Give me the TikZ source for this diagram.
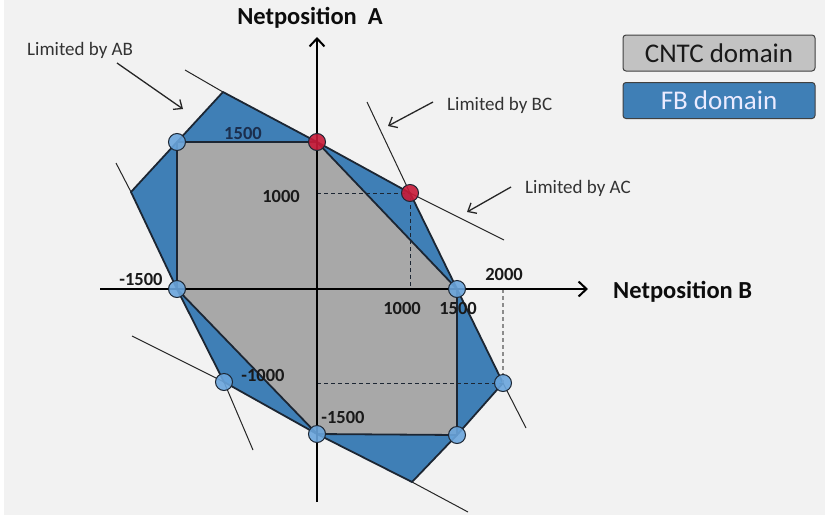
\documentclass[tikz,border=0pt]{standalone}
\usepackage{fontspec}
\setmainfont{Carlito}
\usetikzlibrary{arrows.meta}

\definecolor{bgcol}{HTML}{F2F2F2}
\definecolor{fbblue}{HTML}{3F7FB6}
\definecolor{cntcgray}{HTML}{A8A8A8}
\definecolor{legendgray}{HTML}{C2C2C2}
\definecolor{edgecol}{HTML}{1C2633}
\definecolor{ptblue}{HTML}{6AA5DC}
\definecolor{ptred}{HTML}{C81A38}
\definecolor{navy}{HTML}{1B2E4D}
\definecolor{labelcol}{HTML}{333333}

\tikzset{
  edgeline/.style={draw=edgecol, line width=1.8pt, line join=round},
  extline/.style={draw=black!85, line width=1pt},
  guide/.style={draw=edgecol, line width=1pt, dash pattern=on 4pt off 3pt},
  guidegray/.style={draw=black!45, line width=1.2pt, dash pattern=on 4pt off 3pt},
  axisline/.style={draw=black, line width=2pt, -{Straight Barb[length=8pt,width=15pt,line width=2pt]}},
  pointer/.style={draw=black!85, line width=1.3pt, -{Straight Barb[length=7pt,width=12pt,line width=1.3pt]}},
  bluept/.style={circle, minimum size=17pt, inner sep=0pt, fill=ptblue, fill opacity=0.9, draw=edgecol, line width=1pt},
  redpt/.style={circle, minimum size=17pt, inner sep=0pt, fill=ptred, fill opacity=0.9, draw=edgecol, line width=1pt},
  numlabel/.style={font=\fontsize{18.5}{18.5}\selectfont\bfseries, text=black!90, inner sep=0pt, anchor=base},
  limlabel/.style={font=\fontsize{19}{19}\selectfont, text=labelcol, inner sep=0pt, anchor=base west},
  axislabel/.style={font=\fontsize{24.5}{24.5}\selectfont\bfseries, text=black!95, inner sep=0pt, anchor=base},
  legendbox/.style={rounded corners=3pt, draw=black!75, line width=1pt, minimum width=192pt, minimum height=36pt, inner sep=0pt, font=\fontsize{27}{27}\selectfont}
}

\begin{document}
\begin{tikzpicture}[x=1pt, y=-1pt]
\useasboundingbox (0,0) rectangle (825,515);
\fill[bgcol] (0,0) rectangle (825,515);
\fill[white] (0,0) rectangle (4,515);

% corner points of the two domains
\coordinate (fbTL) at (223,92);
\coordinate (pA)   at (317,142);
\coordinate (pAB)  at (410,193);
\coordinate (pB)   at (457,289);
\coordinate (fbR)  at (503,383);
\coordinate (sqBR) at (457,435);
\coordinate (fbBR) at (412,482);
\coordinate (mA)   at (317,434);
\coordinate (mAB)  at (224,382);
\coordinate (mB)   at (177,289);
\coordinate (fbL)  at (131,192);
\coordinate (sqTL) at (177,142);

% free ends of the constraint lines
\coordinate (t1) at (185,70);
\coordinate (t2) at (504,240);
\coordinate (b1) at (132,336);
\coordinate (b2) at (468,512);
\coordinate (l1) at (116,163);
\coordinate (l2) at (253,450);
\coordinate (r1) at (367,102);
\coordinate (r2) at (526,428);

% guide points on the axes
\coordinate (gA)  at (317,193);
\coordinate (gB)  at (410,289);
\coordinate (gB2) at (503,289);
\coordinate (gAm) at (317,383);

% axis ends
\coordinate (axL) at (100,289);
\coordinate (axR) at (588,289);
\coordinate (axB) at (317,502);
\coordinate (axT) at (317,37);

% FB domain
\fill[fbblue] (fbTL) -- (pA) -- (pAB) -- (pB) -- (fbR) -- (sqBR) -- (fbBR) -- (mA) -- (mAB) -- (mB) -- (fbL) -- cycle;
% CNTC domain
\fill[cntcgray] (sqTL) -- (pA) -- (pB) -- (sqBR) -- (mA) -- (mB) -- cycle;

% constraint lines beyond the domain
\draw[extline] (t1) -- (fbTL);
\draw[extline] (pAB) -- (t2);
\draw[extline] (b1) -- (mAB);
\draw[extline] (fbBR) -- (b2);
\draw[extline] (l1) -- (fbL);
\draw[extline] (mAB) -- (l2);
\draw[extline] (r1) -- (pAB);
\draw[extline] (fbR) -- (r2);

% domain outlines
\draw[edgeline] (fbTL) -- (pA) -- (pAB) -- (pB) -- (fbR) -- (sqBR) -- (fbBR) -- (mA) -- (mAB) -- (mB) -- (fbL) -- cycle;
\draw[edgeline] (sqTL) -- (pA) -- (pB) -- (sqBR) -- (mA) -- (mB) -- cycle;

% dashed guides
\draw[guide] (gA) -- (pAB) -- (gB);
\draw[guide] (gAm) -- (fbR);
\draw[guidegray] (gB2) -- (fbR);

% axes
\draw[axisline] (axL) -- (axR);
\draw[axisline] (axB) -- (axT);
\node[axislabel] (labA) at (310,24) {Netposition\ \ A};
\node[axislabel, anchor=base west] (labB) at (613,298) {Netposition B};

% vertices
\node[redpt]  (cA)   at (pA) {};
\node[redpt]  (cAB)  at (pAB) {};
\node[bluept] (cB)   at (pB) {};
\node[bluept] (cR)   at (fbR) {};
\node[bluept] (cSQ)  at (sqBR) {};
\node[bluept] (cmA)  at (mA) {};
\node[bluept] (cmAB) at (mAB) {};
\node[bluept] (cmB)  at (mB) {};
\node[bluept] (cTL)  at (sqTL) {};

% value labels
\node[numlabel, text=navy] (n1) at (243,139) {1500};
\node[numlabel] (n2) at (281,202) {1000};
\node[numlabel] (n3) at (141,285) {-1500};
\node[numlabel] (n4) at (402,314) {1000};
\node[numlabel] (n5) at (458,314) {1500};
\node[numlabel] (n6) at (504,280) {2000};
\node[numlabel] (n7) at (263,381) {-1000};
\node[numlabel] (n8) at (343,423) {-1500};

% constraint annotations
\node[limlabel] (limAB) at (27,55) {Limited by AB};
\node[limlabel] (limBC) at (447,110) {Limited by BC};
\node[limlabel] (limAC) at (525,193) {Limited by AC};
\coordinate (pAB1) at (117,63);  \coordinate (pAB2) at (183,109);
\coordinate (pBC1) at (433,102); \coordinate (pBC2) at (388,126);
\coordinate (pAC1) at (511,187); \coordinate (pAC2) at (467,212);
\draw[pointer] (pAB1) -- (pAB2);
\draw[pointer] (pBC1) -- (pBC2);
\draw[pointer] (pAC1) -- (pAC2);

% legend
\node[legendbox, fill=legendgray, text=black!90] (legC) at (719,53) {CNTC domain};
\node[legendbox, fill=fbblue, text=white!92!blue] (legF) at (719,100.5) {FB domain};
\end{tikzpicture}
\end{document}
